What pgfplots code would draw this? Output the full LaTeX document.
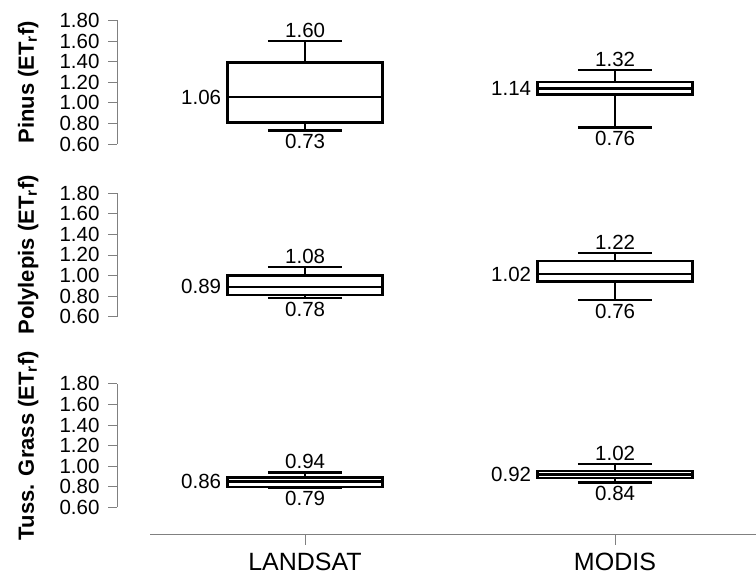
\documentclass[border=0pt]{standalone}
\usepackage{pgfplots}
\pgfplotsset{compat=1.18}
\usepgfplotslibrary{statistics}
\usepackage{fontspec}
\setmainfont{Liberation Sans}
\newcommand{\ffs}{\fontsize{20.5}{24}\selectfont}
\definecolor{axgray}{HTML}{808080}
\pgfplotsset{
 panel/.style={
  scale only axis, width=638.9pt, height=123.5pt,
  xmin=0.393, xmax=2.454, ymin=0.6, ymax=1.8,
  clip=false,
  axis x line=none, axis y line*=left, ytick pos=left,
  axis line style={-, draw=axgray, line width=0.8pt},
  ytick={0.6,0.8,1.0,1.2,1.4,1.6,1.8},
  /pgf/number format/assume math mode=true,
  yticklabel style={font=\ffs, xshift=-5pt, /pgf/number format/.cd, fixed, fixed zerofill, precision=2},
  tick align=outside, major tick length=9pt,
  tick style={draw=axgray, line width=0.8pt},
  boxplot/draw direction=y,
  every axis y label/.style={at={(axis description cs:-0.139,0.5)}, rotate=90, anchor=center, font=\fontsize{22}{26}\selectfont\bfseries},
 },
 bx/.style={black, line width=2.4pt, solid, boxplot prepared={#1, box extend=0.5, whisker extend=0.24}},
 lab/.style={only marks, mark=none, nodes near coords, point meta=explicit symbolic, nodes near coords align=#1, every node near coord/.append style={font=\ffs, text=black}},
 labl/.style={only marks, mark=none, nodes near coords, point meta=explicit symbolic, nodes near coords align=left, every node near coord/.append style={font=\ffs, text=black, xshift=-3pt}},
}
\begin{document}
\begin{tikzpicture}
\path[use as bounding box] (0pt,0pt) rectangle (756pt,577pt);
% Panel 1: Pinus
\begin{axis}[panel, at={(117pt,433pt)}, anchor=south west, ylabel={Pinus (ET\textsubscript{r}f)}]
\addplot[bx={lower whisker=0.73, lower quartile=0.81, median=1.055, upper quartile=1.39, upper whisker=1.60, draw position=1}] coordinates {};
\addplot[bx={lower whisker=0.76, lower quartile=1.08, median=1.14, upper quartile=1.20, upper whisker=1.32, draw position=2}] coordinates {};
\addplot[lab=above] coordinates {(1,1.60) [1.60] (2,1.32) [1.32]};
\addplot[lab=below] coordinates {(1,0.73) [0.73] (2,0.76) [0.76]};
\addplot[labl] coordinates {(0.75,1.055) [1.06] (1.75,1.14) [1.14]};
\end{axis}
% Panel 2: Polylepis
\begin{axis}[panel, at={(117pt,260.3pt)}, anchor=south west, ylabel={Polylepis (ET\textsubscript{r}f)}]
\addplot[bx={lower whisker=0.78, lower quartile=0.81, median=0.89, upper quartile=1.00, upper whisker=1.08, draw position=1}] coordinates {};
\addplot[bx={lower whisker=0.76, lower quartile=0.94, median=1.015, upper quartile=1.14, upper whisker=1.22, draw position=2}] coordinates {};
\addplot[lab=above] coordinates {(1,1.08) [1.08] (2,1.22) [1.22]};
\addplot[lab=below] coordinates {(1,0.78) [0.78] (2,0.76) [0.76]};
\addplot[labl] coordinates {(0.75,0.89) [0.89] (1.75,1.015) [1.02]};
\end{axis}
% Panel 3: Tussock grass
\begin{axis}[panel, at={(117pt,69.7pt)}, anchor=south west, ylabel={Tuss. Grass (ET\textsubscript{r}f)}]
\addplot[bx={lower whisker=0.79, lower quartile=0.80, median=0.85, upper quartile=0.89, upper whisker=0.94, draw position=1}] coordinates {};
\addplot[bx={lower whisker=0.84, lower quartile=0.885, median=0.92, upper quartile=0.955, upper whisker=1.02, draw position=2}] coordinates {};
\addplot[lab=above] coordinates {(1,0.94) [0.94] (2,1.02) [1.02]};
\addplot[lab=below] coordinates {(1,0.79) [0.79] (2,0.84) [0.84]};
\addplot[labl] coordinates {(0.75,0.85) [0.86] (1.75,0.92) [0.92]};
\end{axis}
% x axis
\begin{axis}[scale only axis, width=605.7pt, height=10pt, at={(150pt,42.3pt)}, anchor=south west,
  xmin=0.5, xmax=2.454, ymin=0, ymax=1,
  axis x line*=bottom, axis y line=none, xtick={1,2}, xticklabels={LANDSAT,MODIS},
  xtick pos=bottom, tick align=outside, major tick length=10pt,
  axis line style={-, draw=axgray, line width=0.8pt}, tick style={draw=axgray, line width=0.8pt},
  xticklabel style={font=\fontsize{25}{30}\selectfont, yshift=-5pt}]
\addplot[draw=none] coordinates {(1,0.5)};
\end{axis}
\end{tikzpicture}
\end{document}
